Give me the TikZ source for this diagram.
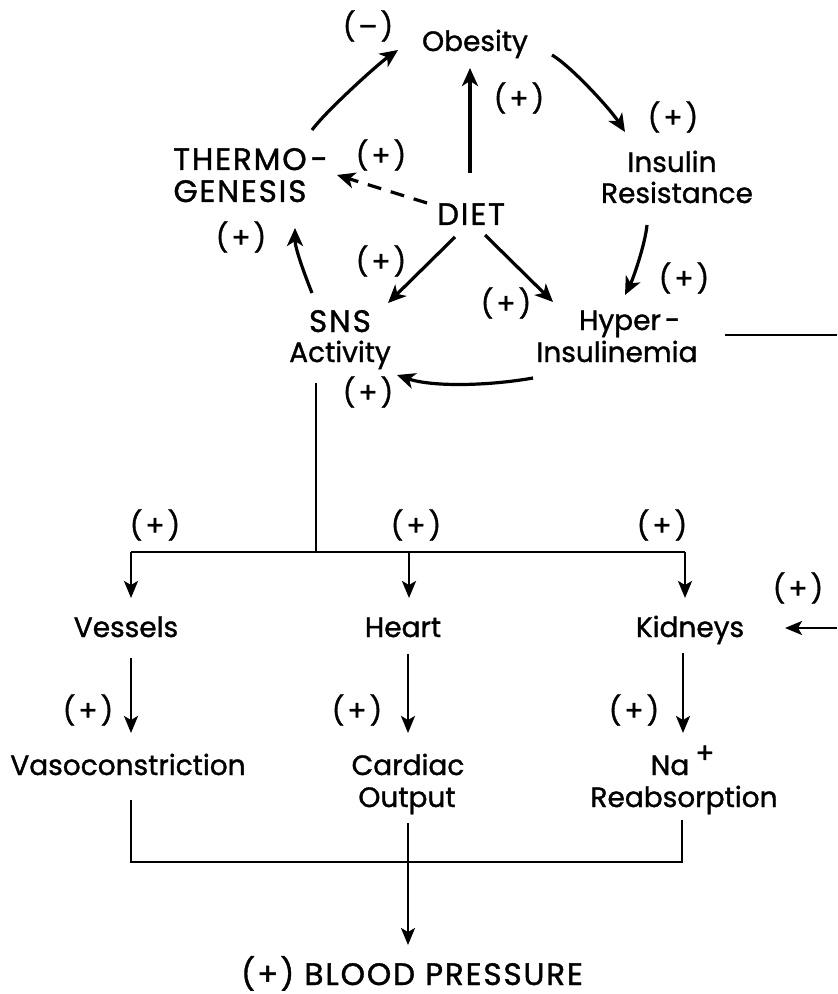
\documentclass[tikz,border=0pt]{standalone}
\usepackage{fontspec}
\setmainfont{Poppins}[FakeBold=1.2]
\usetikzlibrary{arrows.meta}
\begin{document}
\begin{tikzpicture}[x=0.5pt,y=-0.5pt,
  txt/.style={anchor=base,inner sep=0pt,font=\fontsize{14}{16}\selectfont},
  capstext/.style={anchor=base,inner sep=0pt,font=\fontsize{15.5}{16}\selectfont\addfontfeatures{LetterSpace=6}},
  sgn/.style={anchor=center,inner sep=0pt,font=\fontsize{14}{16}\selectfont},
  arr/.style={line width=1.6pt,-{Stealth[length=9pt,width=8pt,inset=2.5pt]}},
  ln/.style={line width=1.3pt},
  arrl/.style={line width=1.3pt,-{Stealth[length=8.5pt,width=7pt,inset=2pt]}}]
\useasboundingbox (0,0) rectangle (837,994);
% main labels
\node[txt] (obes) at (475,51) {Obesity};
\node[txt] (ins1) at (672,172) {Insulin};
\node[txt] (ins2) at (677,203) {Resistance};
\node[capstext] (th1) at (240,170) {THERMO\rlap{\kern2pt-}};
\node[capstext] (th2) at (240,202) {GENESIS};
\node[capstext] (diet) at (471,225) {DIET};
\node[capstext] (sns1) at (340,332) {SNS};
\node[txt] (sns2) at (340,362) {Activity};
\node[txt] (hyp1) at (620,330) {Hyper\rlap{\kern2pt-}};
\node[txt] (hyp2) at (617,362) {Insulinemia};
\node[txt] (vess) at (126,637) {Vessels};
\node[txt] (heart) at (403,637) {Heart};
\node[txt] (kid) at (690,637) {Kidneys};
\node[txt] (vaso) at (128,775) {Vasoconstriction};
\node[txt] (card1) at (408,775) {Cardiac};
\node[txt] (card2) at (407,807) {Output};
\node[txt] (na1) at (670,775) {Na\rlap{\kern3pt\raisebox{6pt}{+}}};
\node[txt] (na2) at (684,807) {Reabsorption};
\node[capstext] (bp) at (412,985) {(\kern1pt+\kern1pt) BLOOD PRESSURE};
% signs
\node[sgn] (m1) at (368,26) {(\kern1.5pt–\kern1.5pt)};
\node[sgn] (p1) at (519,98) {(\kern1.5pt+\kern1.5pt)};
\node[sgn] (p2) at (673,117) {(\kern1.5pt+\kern1.5pt)};
\node[sgn] (p3) at (381,155) {(\kern1.5pt+\kern1.5pt)};
\node[sgn] (p4) at (241,237) {(\kern1.5pt+\kern1.5pt)};
\node[sgn] (p5) at (381,261) {(\kern1.5pt+\kern1.5pt)};
\node[sgn] (p6) at (684,278) {(\kern1.5pt+\kern1.5pt)};
\node[sgn] (p7) at (506,303) {(\kern1.5pt+\kern1.5pt)};
\node[sgn] (p8) at (368,392) {(\kern1.5pt+\kern1.5pt)};
\node[sgn] (p9) at (155,525) {(\kern1.5pt+\kern1.5pt)};
\node[sgn] (p10) at (416,525) {(\kern1.5pt+\kern1.5pt)};
\node[sgn] (p11) at (662,525) {(\kern1.5pt+\kern1.5pt)};
\node[sgn] (p12) at (798,588) {(\kern1.5pt+\kern1.5pt)};
\node[sgn] (p13) at (88,710) {(\kern1.5pt+\kern1.5pt)};
\node[sgn] (p14) at (357,710) {(\kern1.5pt+\kern1.5pt)};
\node[sgn] (p15) at (634,710) {(\kern1.5pt+\kern1.5pt)};
% coordinates
\coordinate (re1) at (837,335);
\coordinate (re2) at (837,628);
\coordinate (j1) at (316,552);
\coordinate (bl) at (131,552);
\coordinate (jm) at (409,552);
\coordinate (br) at (685,552);
\coordinate (bb1) at (131,862);
\coordinate (bb2) at (682,862);
% top cycle
\draw[arr] ([shift={(72,-40)}]th1.base) .. controls +(14,-19) and +(-20,14) .. ([shift={(-77,-1)}]obes.base);
\draw[arr] ([shift={(77,4)}]obes.base) .. controls +(20,12) and +(-14,-22) .. ([shift={(-47,-40)}]ins1.base);
\draw[arr] ([shift={(-1,-52)}]diet.base) -- ([shift={(-5,17)}]obes.base);
\draw[arr,dash pattern=on 7pt off 5pt] ([shift={(-44,-22)}]diet.base) -- ([shift={(97,-27)}]th2.base);
\draw[arr] ([shift={(-30,22)}]ins2.base) .. controls +(-2,20) and +(8,-16) .. ([shift={(5,-35)}]hyp1.base);
\draw[arr] ([shift={(-28,-39)}]sns1.base) .. controls +(-8,-20) and +(0,20) .. ([shift={(55,26)}]th2.base);
\draw[arr] ([shift={(-16,12)}]diet.base) -- ([shift={(48,-29)}]sns1.base);
\draw[arr] ([shift={(14,10)}]diet.base) -- ([shift={(-67,-28)}]hyp1.base);
\draw[arr] ([shift={(-84,16)}]hyp2.base) .. controls +(-45,8) and +(35,12) .. ([shift={(57,13)}]sns2.base);
\draw[ln] ([shift={(105,5)}]hyp1.base) -- (re1);
\draw[arrl] (re2) -- ([shift={(95,-9)}]kid.base);
% tree
\draw[ln] ([shift={(-24,21)}]sns2.base) -- (j1);
\draw[ln] (bl) -- (br);
\draw[arrl] (bl) -- ([shift={(5,-39)}]vess.base);
\draw[arrl] (jm) -- ([shift={(6,-39)}]heart.base);
\draw[arrl] (br) -- ([shift={(-5,-39)}]kid.base);
\draw[arrl] ([shift={(5,21)}]vess.base) -- ([shift={(3,-42)}]vaso.base);
\draw[arrl] ([shift={(5,17)}]heart.base) -- ([shift={(0,-42)}]card1.base);
\draw[arrl] ([shift={(-7,16)}]kid.base) -- ([shift={(13,-42)}]na1.base);
\draw[ln] ([shift={(3,25)}]vaso.base) -- (bb1) -- (bb2) -- ([shift={(-2,13)}]na2.base);
\draw[arrl] ([shift={(1,16)}]card2.base) -- ([shift={(-4,-40)}]bp.base);
\end{tikzpicture}
\end{document}
